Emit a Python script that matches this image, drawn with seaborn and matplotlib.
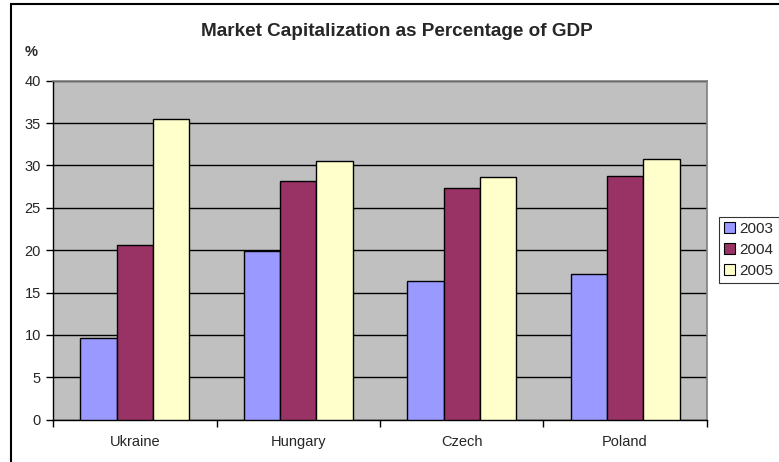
import pandas as pd
import seaborn as sns
import matplotlib.pyplot as plt
from matplotlib.patches import Rectangle, Patch
from matplotlib.ticker import FixedLocator

# Data
countries = ["Ukraine", "Hungary", "Czech", "Poland"]
years = ["2003", "2004", "2005"]
cap_2003 = [9.6, 19.9, 16.4, 17.2]
cap_2004 = [20.6, 28.2, 27.3, 28.7]
cap_2005 = [35.5, 30.5, 28.6, 30.8]

df = pd.DataFrame({
    "country": countries * 3,
    "year": [y for y in years for _ in countries],
    "value": cap_2003 + cap_2004 + cap_2005,
})

colors = ["#9999FF", "#993366", "#FFFFCC"]

sns.set_style("white")
plt.rcParams['font.family'] = ['Liberation Sans', 'DejaVu Sans']

fig = plt.figure(figsize=(7.79, 4.62), dpi=100)
ax = fig.add_axes([53.3 / 779, 1 - 419.7 / 462, (706.7 - 53.3) / 779, (419.7 - 80.7) / 462])

sns.barplot(data=df, x="country", y="value", hue="year", palette=colors,
            width=0.667, edgecolor="black", linewidth=1, saturation=1,
            ax=ax, legend=False, zorder=3)

ax.set_facecolor("#C0C0C0")
ax.set_ylim(0, 40)
ax.set_xlim(-0.5, 3.5)
ax.set_yticks(range(0, 41, 5))
ax.yaxis.grid(True, color="black", linewidth=1, zorder=1)
ax.set_axisbelow(True)
ax.set_xlabel("")
ax.set_ylabel("")

# ticks: y outward, x only at category boundaries
ax.tick_params(axis="y", direction="out", length=5, width=1, color="black",
               labelsize=10.5, pad=4, left=True)
ax.tick_params(axis="x", which="major", length=0, labelsize=10.5, pad=11)
ax.xaxis.set_minor_locator(FixedLocator([-0.5, 0.5, 1.5, 2.5, 3.5]))
ax.tick_params(axis="x", which="minor", direction="out", length=5, width=1,
               color="black", bottom=True)

for side in ["left", "bottom"]:
    ax.spines[side].set_color("black")
    ax.spines[side].set_linewidth(1)
for side in ["top", "right"]:
    ax.spines[side].set_color("#808080")
    ax.spines[side].set_linewidth(1.2)

handles = [Patch(facecolor=c, edgecolor="black", linewidth=0.8) for c in colors]
leg = fig.legend(handles, years, loc="center left",
                 bbox_to_anchor=(718.7 / 779, 1 - 250 / 462),
                 frameon=True, fancybox=False, edgecolor="black",
                 fontsize=11, handlelength=0.7, handleheight=0.7,
                 handletextpad=0.3, borderpad=0.35, labelspacing=0.45,
                 borderaxespad=0)
leg.get_frame().set_linewidth(0.8)

fig.text(397 / 779, 1 - 31 / 462, "Market Capitalization as Percentage of GDP",
         ha="center", va="center", fontsize=13.6, fontweight="bold")
fig.text(25 / 779, 1 - 52 / 462, "%", ha="left", va="center",
         fontsize=10.5, fontweight="bold")

# outer chart border (cropped at right and bottom)
fig.patches.append(Rectangle((11 / 779, -0.1), 1.2, 1 - 4 / 462 + 0.1,
                             transform=fig.transFigure, fill=False,
                             edgecolor="black", linewidth=1.5))

fig.savefig("out.png", dpi=100)
